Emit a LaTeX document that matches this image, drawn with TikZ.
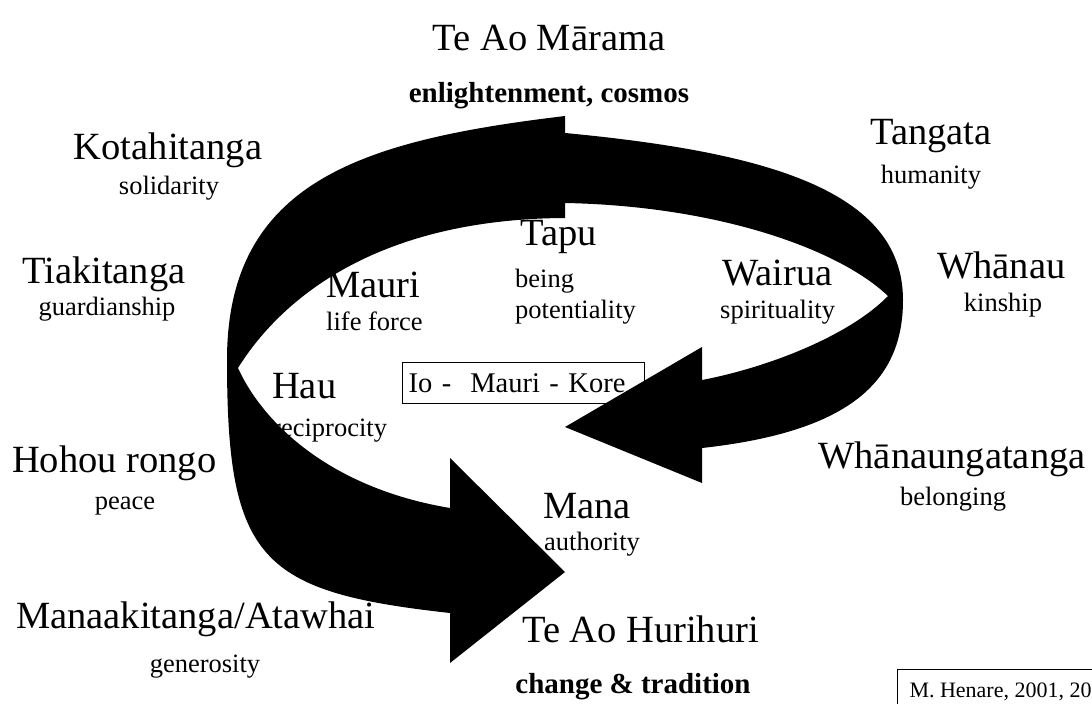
\documentclass[tikz,border=0pt]{standalone}
\usepackage{fontspec}
\setmainfont{Liberation Serif}
\begin{document}
\begin{tikzpicture}[x=1bp,y=-1bp,
  big/.style={font=\fontsize{38.5bp}{40bp}\selectfont, inner sep=0pt},
  small/.style={font=\fontsize{26.5bp}{28bp}\selectfont, inner sep=0pt},
  boldtxt/.style={font=\fontsize{29bp}{30bp}\selectfont\bfseries, inner sep=0pt},
  boxtxt/.style={draw=black, line width=1.2bp, font=\fontsize{28.5bp}{30bp}\selectfont},
  arrowfill/.style={fill=black}]
\useasboundingbox (0,0) rectangle (1092,704);
\fill[white] (0,0) rectangle (1092,704);
\clip (0,0) rectangle (1092,704);

% top
\node[big, anchor=base] (tearama) at (549,51) {Te Ao Mārama};
\node[boldtxt, anchor=base] (cosmos) at (549,103) {enlightenment, cosmos};
\node[big, anchor=base] (kota) at (168,160) {Kotahitanga};
\node[small, anchor=base] (solid) at (169,195) {solidarity};
\node[big, anchor=base] (tangata) at (931,145) {Tangata};
\node[small, anchor=base] (human) at (931,184) {humanity};

% middle
\node[big, anchor=base west] (tiaki) at (22,283) {Tiakitanga};
\node[small, anchor=base] (guard) at (107,315) {guardianship};
\node[big, anchor=base west] (mauri) at (326,297) {Mauri};
\node[small, anchor=base west] (life) at (326,330) {life force};
\node[big, anchor=base west] (tapu) at (520,245) {Tapu};
\node[small, anchor=base west] (being) at (515,287) {being};
\node[small, anchor=base west] (potent) at (515,318) {potentiality};
\node[big, anchor=base west] (wairua) at (722,285) {Wairua};
\node[small, anchor=base west] (spirit) at (720,318) {spirituality};
\node[big, anchor=base west] (whanau) at (937,278) {Whānau};
\node[small, anchor=base] (kin) at (1003,311) {kinship};
\node[big, anchor=base west] (hau) at (272,398) {Hau};
\node[small, anchor=base west] (recip) at (272,436) {reciprocity};
\node[boxtxt, anchor=north west, minimum width=242bp, minimum height=41bp,
      inner xsep=6bp, inner ysep=0pt, text width=230bp, align=left] (io) at (402,362) {Io -\ \ Mauri - Kore};

% lower
\node[big, anchor=base west] (hohou) at (12,472) {Hohou rongo};
\node[small, anchor=base] (peace) at (125,509) {peace};
\node[big, anchor=base] (whanaunga) at (952,468) {Whānaungatanga};
\node[small, anchor=base] (belong) at (953,505) {belonging};
\node[big, anchor=base west] (mana) at (543,518) {Mana};
\node[small, anchor=base west] (auth) at (544,550) {authority};
\node[big, anchor=base west] (manaaki) at (16,628) {Manaakitanga/Atawhai};
\node[small, anchor=base] (gener) at (205,672) {generosity};
\node[big, anchor=base west] (hurihuri) at (522,642) {Te Ao Hurihuri};
\node[boldtxt, anchor=base] (change) at (633,693) {change \& tradition};
\node[draw=black, line width=1bp, anchor=north west, inner xsep=12bp, inner ysep=13bp,
      font=\fontsize{22bp}{24bp}\selectfont] (henare) at (897,669) {M. Henare, 2001, 20};

% right arrow (under)
\fill[arrowfill] (545,132) -- (565,133)
  .. controls (765,152) and (903,190) .. (903,300)
  .. controls (903,380) and (852,431.5) .. (702,448)
  -- (702,483) -- (565,427) -- (702,347) -- (702,380)
  .. controls (770,367) and (850,335) .. (888,296)
  .. controls (840,250) and (720,206) .. (565,203)
  -- (545,203) -- cycle;

% left arrow (on top)
\fill[arrowfill] (565,116)
  .. controls (365,140) and (227,180) .. (227,360)
  .. controls (227,560) and (260,592) .. (450,613)
  -- (450,663) -- (565,572) -- (450,458) -- (450,508)
  .. controls (330,488) and (263,423) .. (238,368)
  .. controls (275,308.5) and (365,219) .. (565,218)
  -- cycle;
\end{tikzpicture}
\end{document}
